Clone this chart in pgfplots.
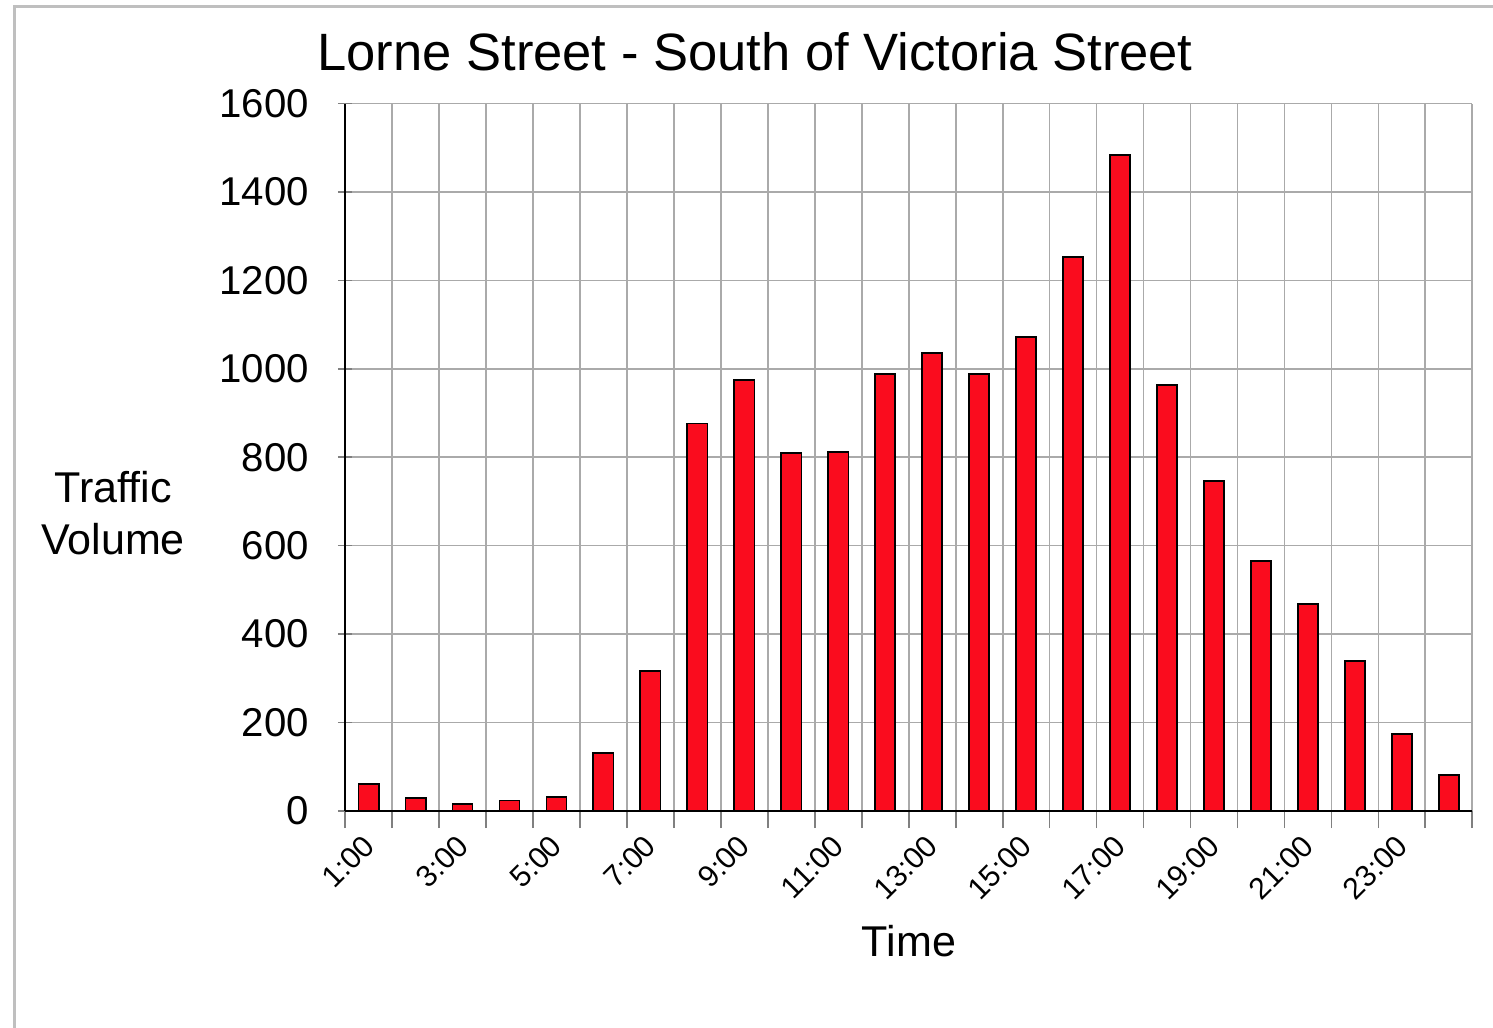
\documentclass[border=0pt]{standalone}
\usepackage{pgfplots}
\pgfplotsset{compat=1.18}
\usepackage{fontspec}
\setmainfont{Liberation Sans}
\definecolor{barred}{RGB}{250,12,30}
\definecolor{gridgray}{RGB}{170,170,170}

\pgfplotstableread{
x y
0.5 61
1.5 29
2.5 16
3.5 23
4.5 32
5.5 131
6.5 317
7.5 876
8.5 975
9.5 810
10.5 812
11.5 989
12.5 1036
13.5 989
14.5 1072
15.5 1253
16.5 1484
17.5 964
18.5 747
19.5 566
20.5 468
21.5 339
22.5 174
23.5 81
}\traffic

\begin{document}
\begin{tikzpicture}
\useasboundingbox (0,0) rectangle (520pt,358pt);
\fill[white] (0,0) rectangle (520pt,358pt);
\draw[black!25, line width=1pt] (5.2pt,0) -- (5.2pt,355.6pt) -- (520pt,355.6pt);
\begin{axis}[
 at={(120.2pt,75.6pt)}, anchor=south west,
 scale only axis, width=392.6pt, height=246.3pt,
 xmin=0, xmax=24, ymin=0, ymax=1600,
 axis x line*=bottom, axis y line*=left,
 axis line style={-, line width=0.8pt},
 /pgf/number format/assume math mode=true,
 /pgf/number format/1000 sep={},
 ytick={0,200,...,1600},
 ymajorgrids,
 xtick={0.5,2.5,...,22.5},
 xticklabels={1:00,3:00,5:00,7:00,9:00,11:00,13:00,15:00,17:00,19:00,21:00,23:00},
 major x tick style={draw=none},
 minor xtick={0,1,...,24},
 xminorgrids,
 minor x tick style={black!50, line width=0.6pt},
 minor tick length=6pt,
 x tick style={/pgfplots/tick align=outside},
 major y tick style={black!50, line width=0.6pt},
 major tick length=5pt,
 ytick align=center,
 grid style={gridgray, line width=0.6pt},
 minor grid style={gridgray, line width=0.6pt},
 yticklabel style={font=\fontsize{14}{14}\selectfont, xshift=-6.6pt},
 xticklabel style={xshift=2.5pt, yshift=-8pt, rotate=45, anchor=east, font=\fontsize{10.5}{10.5}\selectfont},
]
\addplot[ybar, bar width=0.43, fill=barred, draw=black, line width=0.6pt] table[x=x,y=y] {\traffic};
\end{axis}
\node[font=\fontsize{18.3}{20}\selectfont] at (263pt,339.9pt) {Lorne Street - South of Victoria Street};
\node[font=\fontsize{15}{18}\selectfont, align=center] at (39.4pt,179.3pt) {Traffic\\Volume};
\node[font=\fontsize{15}{18}\selectfont] at (316.6pt,30.2pt) {Time};
\end{tikzpicture}
\end{document}
